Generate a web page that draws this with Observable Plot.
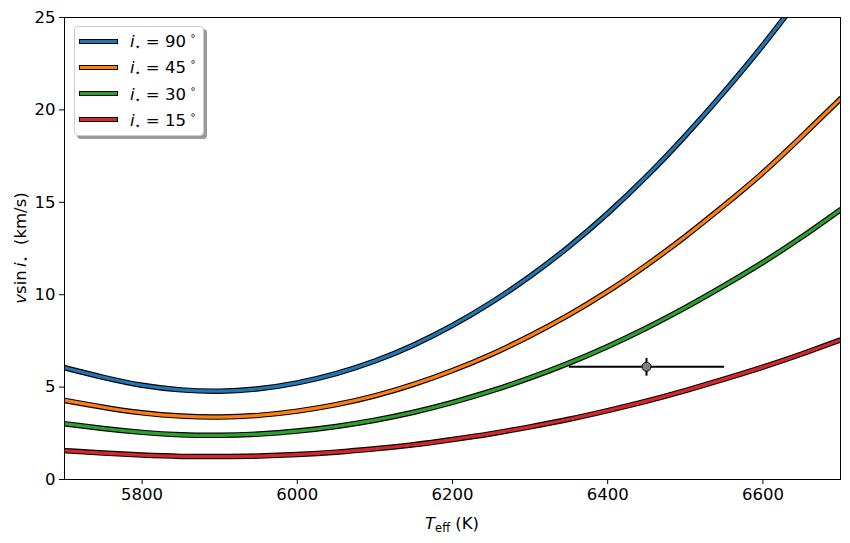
<!DOCTYPE html>
<html>
<head>
<meta charset="utf-8">
<script src="https://cdn.jsdelivr.net/npm/d3@7"></script>
<script src="https://cdn.jsdelivr.net/npm/@observablehq/plot@0.6"></script>
<style>
  body { margin: 0; background: #fff; font-family: "DejaVu Sans", sans-serif; }
  #wrap { position: relative; width: 850px; height: 543px; }
  #legend { position: absolute; left: 74px; top: 26px; width: 128px; height: 108px;
    background: #fff; border: 1px solid #cccccc; border-radius: 4px;
    box-shadow: 3px 3px 0 #9a9a9a; font-size: 16.5px; }
  .item { position: absolute; left: 4px; height: 22px; display: flex; align-items: center; }
  .sw { width: 37px; height: 3px; border: 1px solid #000; margin-right: 12px; }
  .lab { white-space: nowrap; color: #000; }
  .lab sub { font-size: 10px; vertical-align: -3px; margin-right: 5px; }
  .lab sup { font-size: 10px; vertical-align: 8px; margin-left: 4px; }
</style>
</head>
<body>
<div id="wrap"></div>
<script>
const teff = [5700,5750,5800,5850,5900,5950,6000,6050,6100,6150,6200,6250,6300,6350,6400,6450,6500,6550,6600,6650,6700];
const v90 = [6.05,5.53,5.10,4.85,4.78,4.91,5.23,5.73,6.41,7.28,8.34,9.58,11.0,12.6,14.4,16.4,18.6,20.97,23.5,26.25,29.2];
const v45 = [4.28,3.91,3.61,3.43,3.38,3.47,3.70,4.05,4.53,5.15,5.90,6.77,7.78,8.91,10.18,11.6,13.15,14.83,16.6,18.56,20.6];
const v30 = [3.02,2.76,2.55,2.42,2.39,2.46,2.62,2.87,3.21,3.64,4.17,4.79,5.5,6.3,7.2,8.2,9.3,10.49,11.75,13.12,14.6];
const v15 = [1.56,1.43,1.32,1.25,1.24,1.27,1.35,1.48,1.66,1.88,2.16,2.48,2.85,3.26,3.73,4.24,4.81,5.43,6.08,6.79,7.55];
const seriesNames = ["90", "45", "30", "15"];
const seriesColors = ["#1f77b4", "#ff7f0e", "#2ca02c", "#d62728"];
const xTicks = [5800, 6000, 6200, 6400, 6600];
const yTicks = [0, 5, 10, 15, 20, 25];
const obsTeff = [6450], obsTeffErr = [100], obsVsini = [6.1], obsVsiniErr = [0.48];

const allSeries = [v90, v45, v30, v15];
const rows = [];
allSeries.forEach((vals, s) => vals.forEach((v, i) => rows.push({teff: teff[i], v, s: seriesNames[s]})));
const obs = obsTeff.map((t, i) => ({t, te: obsTeffErr[i], v: obsVsini[i], ve: obsVsiniErr[i]}));

const font = "DejaVu Sans, sans-serif";
const chart = Plot.plot({
  width: 850, height: 543,
  marginLeft: 64, marginRight: 10, marginTop: 17, marginBottom: 64,
  style: {fontFamily: font, fontSize: "16.5px", color: "#000", background: "#fff"},
  x: {domain: [5700, 6700]},
  y: {domain: [0, 25]},
  color: {domain: seriesNames, range: seriesColors},
  marks: [
    Plot.axisX({ticks: xTicks, tickSize: 5, tickPadding: 4, tickFormat: d3.format("d"), label: null, fontSize: 16.5, stroke: "#000"}),
    Plot.axisY({ticks: yTicks, tickSize: 5, tickPadding: 4, label: null, fontSize: 16.5, stroke: "#000"}),
    ...seriesNames.flatMap(name => [
      Plot.line(rows.filter(r => r.s === name), {x: "teff", y: "v", stroke: "#000", strokeWidth: 5.5, curve: "natural", clip: true}),
      Plot.line(rows.filter(r => r.s === name), {x: "teff", y: "v", stroke: "s", strokeWidth: 3.2, curve: "natural", clip: true})
    ]),
    Plot.link(obs, {x1: d => d.t - d.te, x2: d => d.t + d.te, y1: "v", y2: "v", stroke: "#000", strokeWidth: 2}),
    Plot.link(obs, {x1: "t", x2: "t", y1: d => d.v - d.ve, y2: d => d.v + d.ve, stroke: "#000", strokeWidth: 2}),
    Plot.dot(obs, {x: "t", y: "v", r: 4.5, fill: "#808080", stroke: "#000", strokeWidth: 1}),
    Plot.frame({stroke: "#000", strokeWidth: 1})
  ]
});
const svg = d3.select(chart);
// x label
const xl = svg.append("text").attr("x", 452).attr("y", 529).attr("text-anchor", "middle")
  .attr("font-size", 16.5).attr("font-family", font).attr("fill", "#000");
xl.append("tspan").attr("font-style", "italic").text("T");
xl.append("tspan").attr("font-size", 11.5).attr("dy", 3).text("eff");
xl.append("tspan").attr("dy", -3).text(" (K)");
// y label
const yl = svg.append("text").attr("transform", "translate(26,248) rotate(-90)").attr("text-anchor", "middle")
  .attr("font-size", 16.5).attr("font-family", font).attr("fill", "#000");
yl.append("tspan").attr("font-style", "italic").text("v");
yl.append("tspan").text("sin\u2009");
yl.append("tspan").attr("font-style", "italic").text("i");
yl.append("tspan").attr("font-size", 11).attr("dy", 3).text("\u22c6");
yl.append("tspan").attr("dy", -3).text("  (km/s)");

const wrap = document.getElementById("wrap");
wrap.appendChild(chart);
const leg = document.createElement("div");
leg.id = "legend";
seriesNames.forEach((n, i) => {
  const it = document.createElement("div");
  it.className = "item";
  it.style.top = (3 + i * 26.3) + "px";
  it.innerHTML = `<div class="sw" style="background:${seriesColors[i]}"></div><span class="lab"><i>i</i><sub>\u22c6</sub>= ${n}<sup>\u2218</sup></span>`;
  leg.appendChild(it);
});
wrap.appendChild(leg);
</script>
</body>
</html>
